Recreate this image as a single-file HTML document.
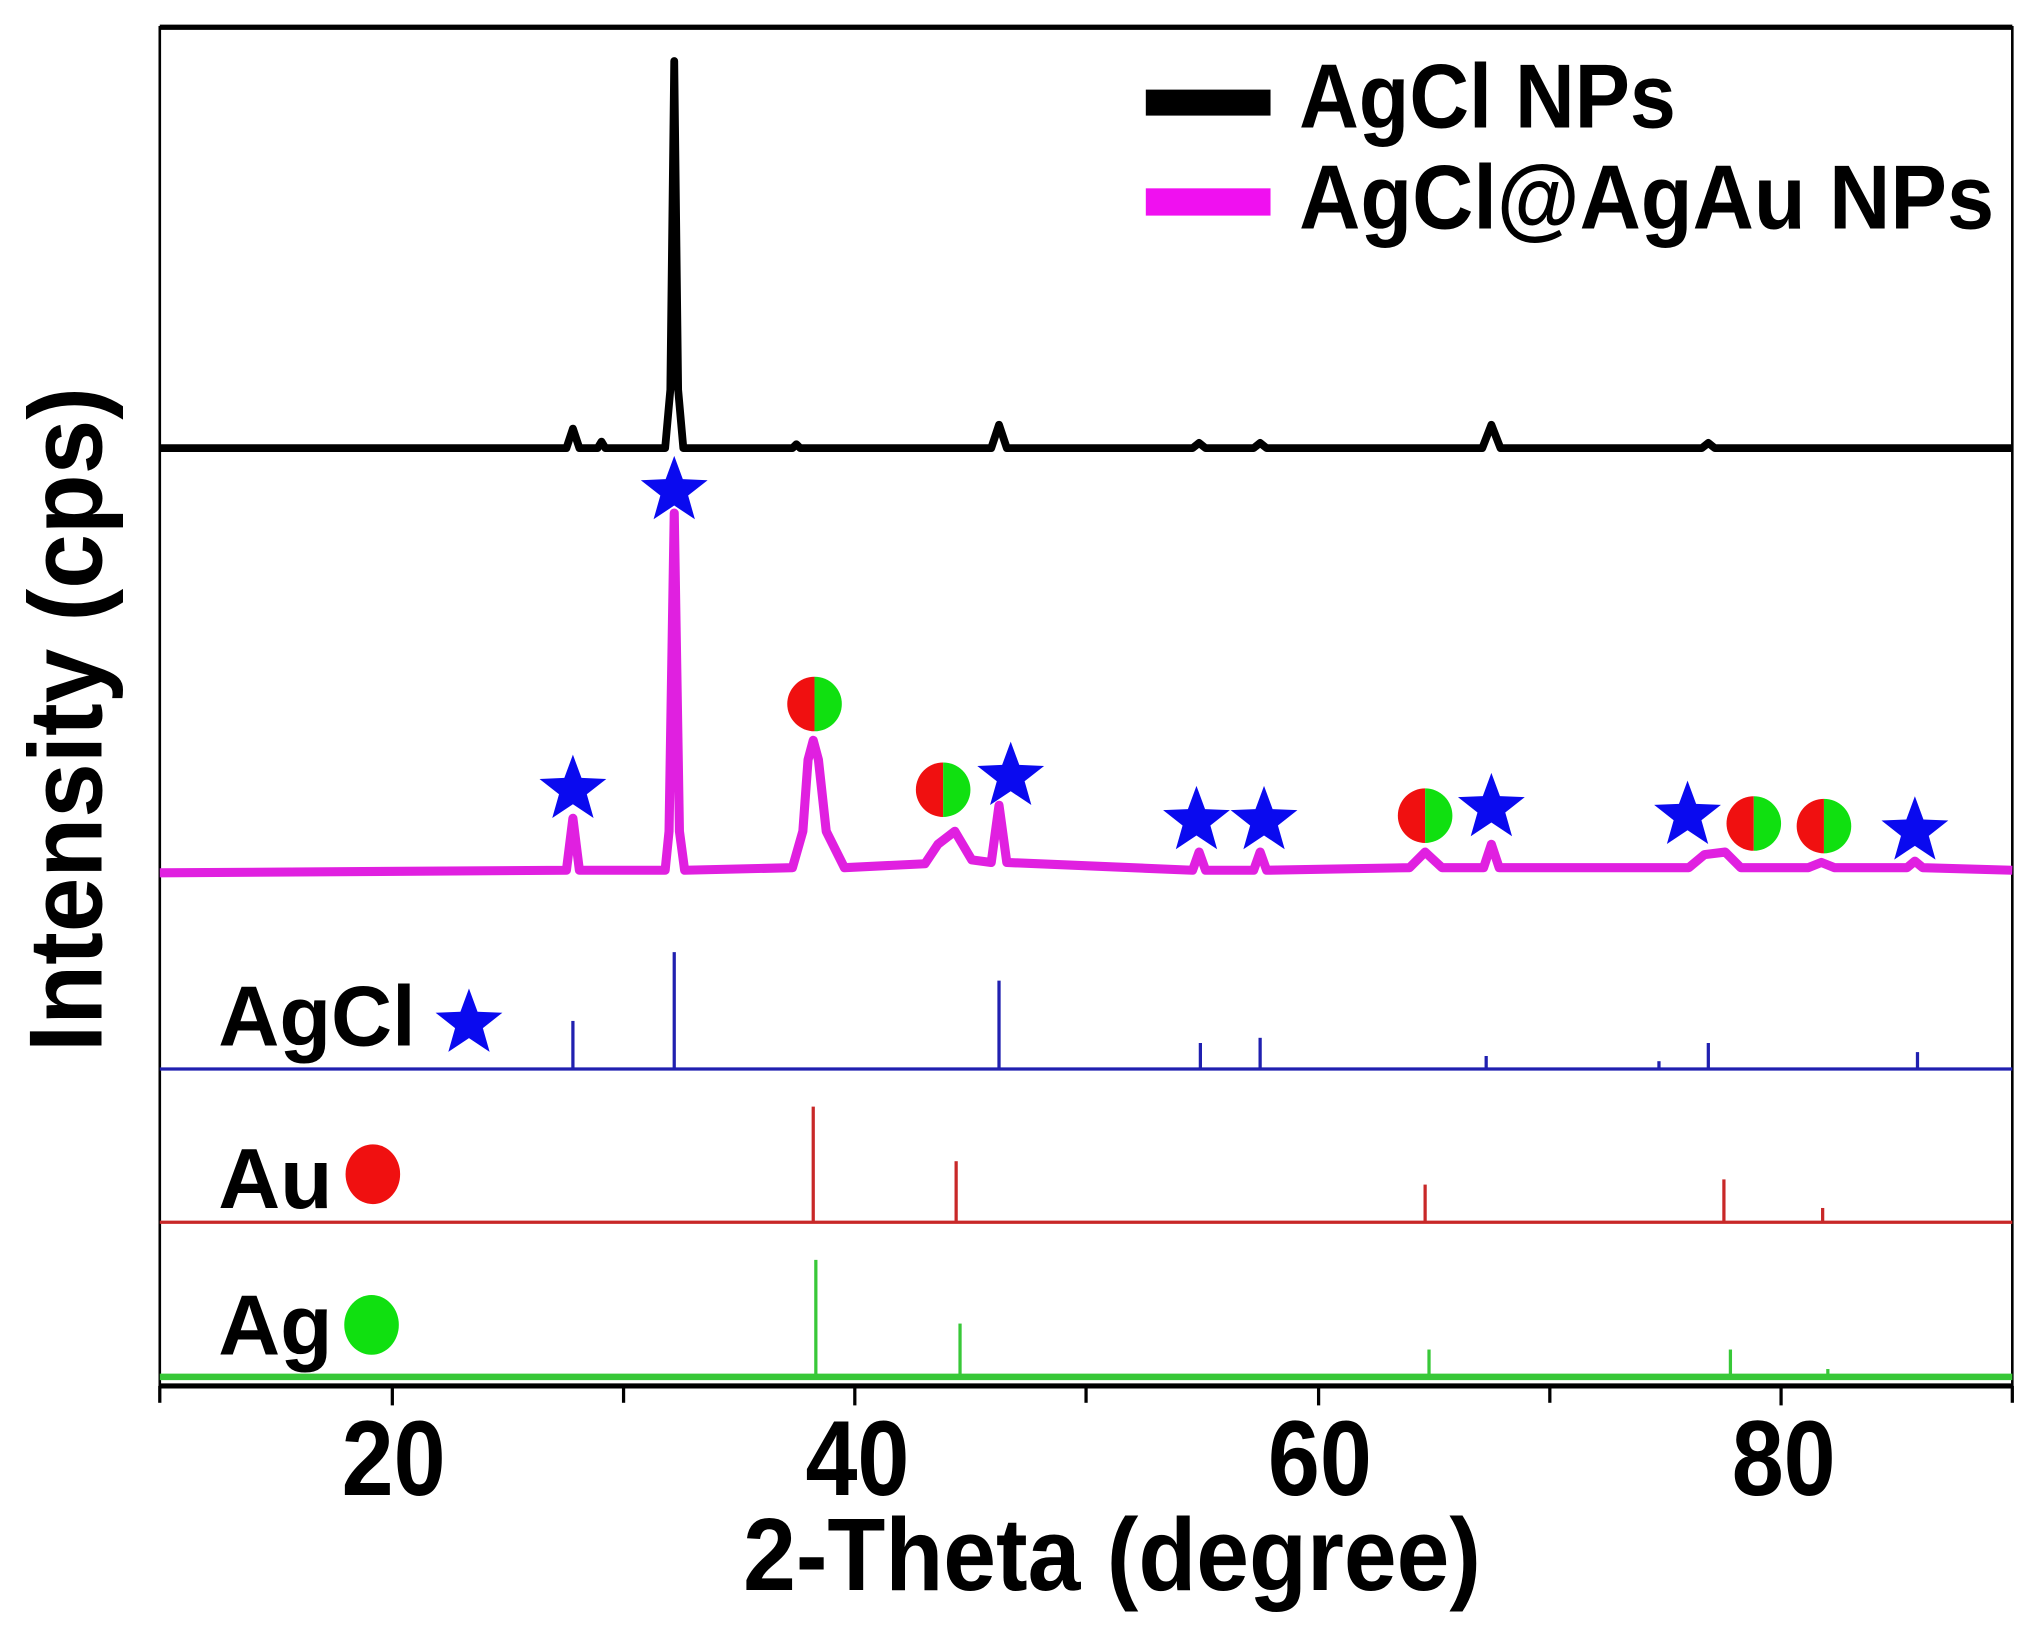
<!DOCTYPE html>
<html><head><meta charset="utf-8"><style>
html,body{margin:0;padding:0;background:#fff;}
svg{display:block;}
text{font-family:"Liberation Sans",Arial,sans-serif;font-weight:bold;fill:#000;}
</style></head><body>
<svg width="2037" height="1634" viewBox="0 0 1568 1258" preserveAspectRatio="none" xmlns="http://www.w3.org/2000/svg">
<defs>
<path id="star" d="M0,-27 L6.6,-9.1 L25.7,-8.3 L10.7,3.5 L15.9,21.8 L0,11.2 L-15.9,21.8 L-10.7,3.5 L-25.7,-8.3 L-6.6,-9.1 Z" fill="#0a0aef"/>
<g id="rg"><path d="M0,-21 A21,21 0 0 0 0,21 Z" fill="#f01010"/><path d="M0,-21 A21,21 0 0 1 0,21 Z" fill="#10e010"/></g>
</defs>
<rect width="1568" height="1258" fill="#fff"/>
<rect x="123" y="21" width="1426" height="1046" fill="none" stroke="#000" stroke-width="2"/>
<line x1="123" y1="21" x2="1549" y2="21" stroke="#000" stroke-width="4"/>
<line x1="123" y1="1067" x2="1549" y2="1067" stroke="#000" stroke-width="4"/>
<g stroke="#000" stroke-width="2.5">
<line x1="123" y1="1067" x2="123" y2="1080"/>
<line x1="302" y1="1067" x2="302" y2="1082"/>
<line x1="480" y1="1067" x2="480" y2="1080"/>
<line x1="658" y1="1067" x2="658" y2="1082"/>
<line x1="836" y1="1067" x2="836" y2="1080"/>
<line x1="1015" y1="1067" x2="1015" y2="1082"/>
<line x1="1193" y1="1067" x2="1193" y2="1080"/>
<line x1="1371" y1="1067" x2="1371" y2="1082"/>
<line x1="1549" y1="1067" x2="1549" y2="1080"/>
</g>
<g font-size="82" text-anchor="middle">
<text x="303" y="1151" textLength="80" lengthAdjust="spacingAndGlyphs">20</text>
<text x="660" y="1151" textLength="80" lengthAdjust="spacingAndGlyphs">40</text>
<text x="1016" y="1151" textLength="80" lengthAdjust="spacingAndGlyphs">60</text>
<text x="1373" y="1151" textLength="80" lengthAdjust="spacingAndGlyphs">80</text>
</g>
<text x="572" y="1224" font-size="79" textLength="568" lengthAdjust="spacingAndGlyphs">2-Theta (degree)</text>
<text transform="translate(78,810) rotate(-90)" font-size="80" textLength="512" lengthAdjust="spacingAndGlyphs">Intensity (cps)</text>
<rect x="882" y="69" width="96" height="20" fill="#000"/>
<text x="1000" y="98" font-size="70" textLength="290" lengthAdjust="spacingAndGlyphs">AgCl NPs</text>
<rect x="882" y="145" width="96" height="21" fill="#f010f0"/>
<text x="1000" y="176" font-size="70" textLength="535" lengthAdjust="spacingAndGlyphs">AgCl@AgAu NPs</text>
<path fill="none" stroke="#000" stroke-width="6" stroke-linejoin="round" d="M123,345 L436,345 L441,330 L446,345 L460,345 L463,340 L466,345 L512,345 L516,300 L519,47 L522,300 L526,345 L610,345 L613,342 L616,345 L763,345 L769,327 L775,345 L918,345 L923,341 L928,345 L965,345 L970,341 L975,345 L1141,345 L1148,327 L1155,345 L1310,345 L1315,341 L1320,345 L1549,345"/>
<path fill="none" stroke="#e020e0" stroke-width="7" stroke-linejoin="round" d="M123,672 L436,670 L441,630 L446,670 L512,670 L515,640 L519,395 L523,640 L527,670 L610,668 L618,640 L622,585 L626,570 L630,585 L636,640 L650,668 L712,665 L722,650 L735,640 L748,662 L763,664 L769,620 L775,664 L918,670 L923,656 L928,670 L965,670 L970,656 L975,670 L1085,668 L1097,656 L1110,668 L1142,668 L1148,650 L1154,668 L1300,668 L1312,658 L1328,656 L1340,668 L1392,668 L1402,664 L1412,668 L1468,668 L1474,663 L1480,668 L1549,670"/>
<use href="#star" x="441" y="608"/>
<use href="#star" x="519" y="378"/>
<use href="#star" x="778" y="598"/>
<use href="#star" x="921" y="632"/>
<use href="#star" x="973" y="632"/>
<use href="#star" x="1148" y="622"/>
<use href="#star" x="1299" y="628"/>
<use href="#star" x="1474" y="640"/>
<use href="#rg" x="627" y="542"/>
<use href="#rg" x="726" y="608"/>
<use href="#rg" x="1097" y="628"/>
<use href="#rg" x="1350" y="634"/>
<use href="#rg" x="1404" y="636"/>
<g stroke="#2020b0" stroke-width="2.5">
<line x1="123" y1="823" x2="1549" y2="823"/>
<line x1="441" y1="823" x2="441" y2="786"/>
<line x1="519" y1="823" x2="519" y2="733"/>
<line x1="769" y1="823" x2="769" y2="755"/>
<line x1="924" y1="823" x2="924" y2="803"/>
<line x1="970" y1="823" x2="970" y2="799"/>
<line x1="1144" y1="823" x2="1144" y2="813"/>
<line x1="1277" y1="823" x2="1277" y2="817"/>
<line x1="1315" y1="823" x2="1315" y2="803"/>
<line x1="1476" y1="823" x2="1476" y2="810"/>
</g>
<text x="168" y="805" font-size="66" textLength="152" lengthAdjust="spacingAndGlyphs">AgCl</text>
<use href="#star" x="361" y="788"/>
<g stroke="#c82828" stroke-width="2.5">
<line x1="123" y1="941" x2="1549" y2="941"/>
<line x1="626" y1="941" x2="626" y2="852"/>
<line x1="736" y1="941" x2="736" y2="894"/>
<line x1="1097" y1="941" x2="1097" y2="912"/>
<line x1="1327" y1="941" x2="1327" y2="908"/>
<line x1="1403" y1="941" x2="1403" y2="930"/>
</g>
<text x="168" y="930" font-size="66" textLength="88" lengthAdjust="spacingAndGlyphs">Au</text>
<ellipse cx="287" cy="904" rx="21" ry="23" fill="#f01010"/>
<g stroke="#38c838" stroke-width="2.5">
<line x1="123" y1="1060" x2="1549" y2="1060" stroke-width="5"/>
<line x1="628" y1="1060" x2="628" y2="970"/>
<line x1="739" y1="1060" x2="739" y2="1019"/>
<line x1="1100" y1="1060" x2="1100" y2="1039"/>
<line x1="1332" y1="1060" x2="1332" y2="1039"/>
<line x1="1407" y1="1060" x2="1407" y2="1054"/>
</g>
<text x="168" y="1043" font-size="66" textLength="88" lengthAdjust="spacingAndGlyphs">Ag</text>
<ellipse cx="286" cy="1020" rx="21" ry="23" fill="#10e010"/>
</svg>
</body></html>
